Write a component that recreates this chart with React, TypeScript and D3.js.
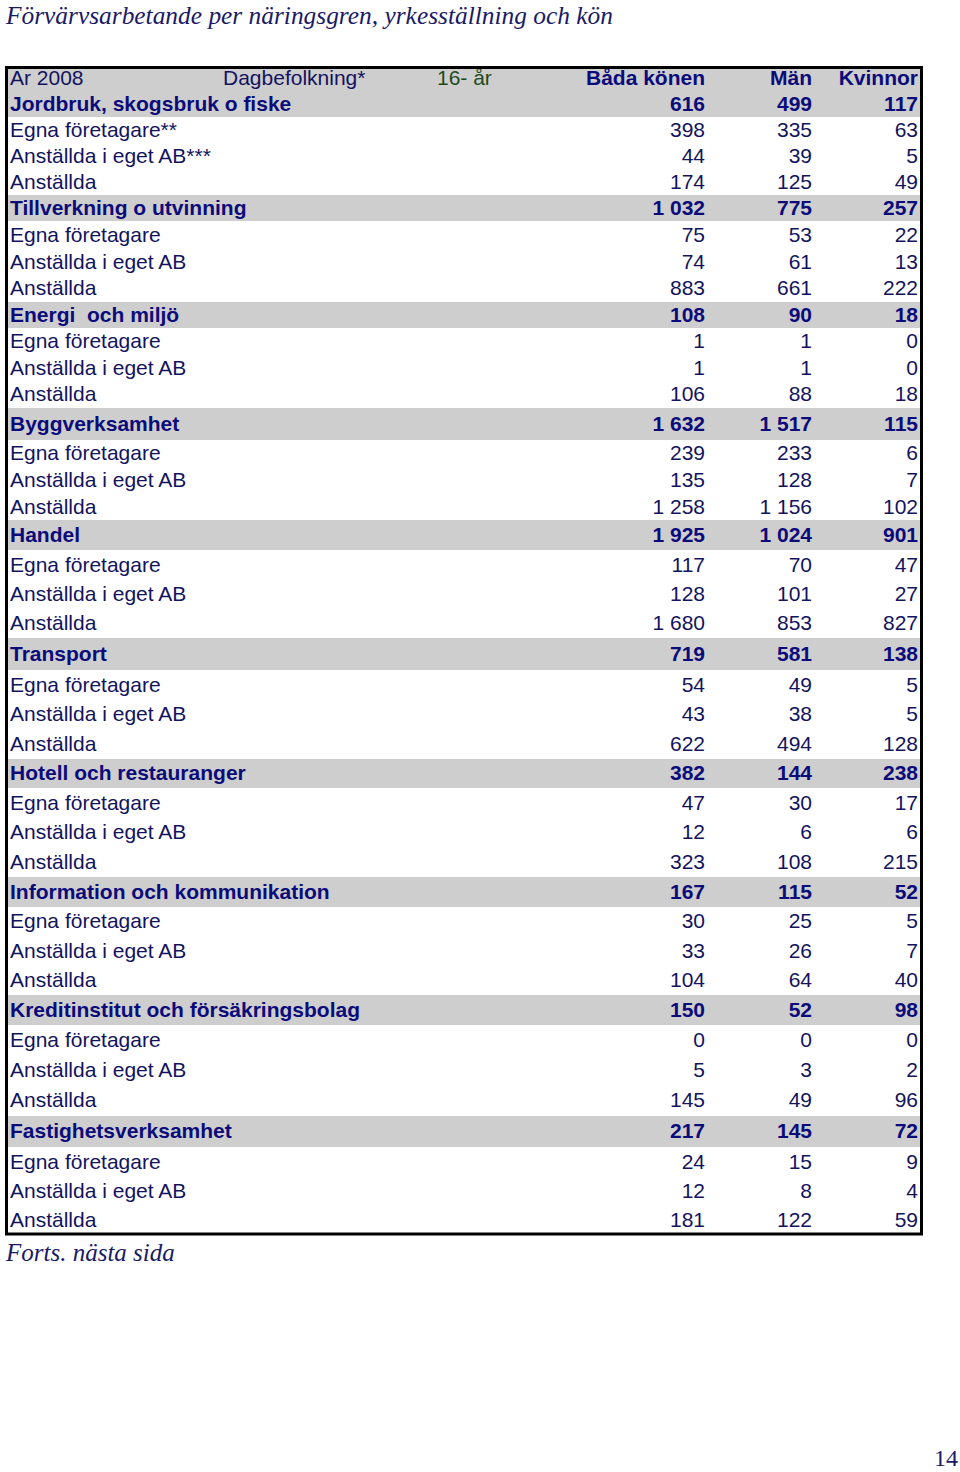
import React from "react";
import * as d3 from "d3";

// ---------- data ----------
const titleText = "Förvärvsarbetande per näringsgren, yrkesställning och kön";
const footerText = "Forts. nästa sida";
const pageNumber = "14";

const headerLabels = ["Ar 2008", "Dagbefolkning*", "16- år"];
const valueColumns = ["Båda könen", "Män", "Kvinnor"];

const sectors = [
  "Jordbruk, skogsbruk o fiske",
  "Tillverkning o utvinning",
  "Energi  och miljö",
  "Byggverksamhet",
  "Handel",
  "Transport",
  "Hotell och restauranger",
  "Information och kommunikation",
  "Kreditinstitut och försäkringsbolag",
  "Fastighetsverksamhet",
];

const firstSubLabels = ["Egna företagare**", "Anställda i eget AB***", "Anställda"];
const subLabels = ["Egna företagare", "Anställda i eget AB", "Anställda"];

// [total, egna företagare, anställda i eget AB, anställda]
const bothSexes = [
  [616, 398, 44, 174],
  [1032, 75, 74, 883],
  [108, 1, 1, 106],
  [1632, 239, 135, 1258],
  [1925, 117, 128, 1680],
  [719, 54, 43, 622],
  [382, 47, 12, 323],
  [167, 30, 33, 104],
  [150, 0, 5, 145],
  [217, 24, 12, 181],
];
const men = [
  [499, 335, 39, 125],
  [775, 53, 61, 661],
  [90, 1, 1, 88],
  [1517, 233, 128, 1156],
  [1024, 70, 101, 853],
  [581, 49, 38, 494],
  [144, 30, 6, 108],
  [115, 25, 26, 64],
  [52, 0, 3, 49],
  [145, 15, 8, 122],
];
const women = [
  [117, 63, 5, 49],
  [257, 22, 13, 222],
  [18, 0, 0, 18],
  [115, 6, 7, 102],
  [901, 47, 27, 827],
  [138, 5, 5, 128],
  [238, 17, 6, 215],
  [52, 5, 7, 40],
  [98, 0, 2, 96],
  [72, 9, 4, 59],
];

// ---------- layout ----------
const W = 960;
const H = 1472;
const tableLeft = 6.5;
const tableRight = 921.5;
const tableTop = 67.5;
const headerHeight = 23.5;
// row heights per section: [heading, sub1, sub2, sub3]
const sectionRowHeights = [
  [26, 26, 26, 26],
  [26, 28, 26, 27],
  [26, 27, 26, 27],
  [32, 27, 27, 26],
  [30, 30, 29, 29],
  [32, 30, 29, 30],
  [29, 30, 29, 30],
  [30, 29, 30, 29],
  [30, 31, 29, 31],
  [31, 30, 29, 28],
];
const labelX = 10;
const headerX = [10, 223, 437];
const colRight = d3.scaleOrdinal<string, number>().domain(valueColumns).range([705, 812, 918]);

const fmtLocale = d3.formatLocale({ decimal: ",", thousands: " ", grouping: [3], currency: ["", ""] });
const fmt = fmtLocale.format(",d");

const FONT = "'Liberation Sans', Arial, Helvetica, sans-serif";
const SERIF = "'Liberation Serif', 'Times New Roman', serif";
const NAVY = "#13135e";
const NAVY_BOLD = "#0b0b7a";
const GREEN = "#1d4a1d";
const GRAY = "#cecece";

export default function App() {
  type Row = { top: number; h: number; label: string; vals: number[]; heading: boolean };
  const rows: Row[] = [];
  let y = tableTop + headerHeight;
  sectors.forEach((s, si) => {
    const hs = sectionRowHeights[si];
    const labels = [s, ...(si === 0 ? firstSubLabels : subLabels)];
    for (let r = 0; r < 4; r++) {
      rows.push({
        top: y,
        h: hs[r],
        label: labels[r],
        vals: [bothSexes[si][r], men[si][r], women[si][r]],
        heading: r === 0,
      });
      y += hs[r];
    }
  });
  const tableBottom = y;
  const fontSize = 21;
  const baseOff = 6.5;
  const headerBase = tableTop + headerHeight / 2 + 5.5;

  return (
    <svg
      width={W}
      height={H}
      style={{ position: "absolute", left: 0, top: 0, background: "#fff" }}
      xmlns="http://www.w3.org/2000/svg"
    >
      <text x={6} y={24} fontFamily={SERIF} fontStyle="italic" fontSize={25.4} fill="#1a1a66">
        {titleText}
      </text>

      {/* header background */}
      <rect x={tableLeft} y={tableTop} width={tableRight - tableLeft} height={headerHeight} fill={GRAY} />
      {rows.filter((r) => r.heading).map((r, i) => (
        <rect key={"bg" + i} x={tableLeft} y={r.top} width={tableRight - tableLeft} height={r.h} fill={GRAY} />
      ))}

      {/* header row */}
      <g fontFamily={FONT} fontSize={fontSize}>
        {headerLabels.map((t, i) => (
          <text key={t} x={headerX[i]} y={headerBase} fill={i === 2 ? GREEN : NAVY}>
            {t}
          </text>
        ))}
        {valueColumns.map((c) => (
          <text key={c} x={colRight(c)} y={headerBase} textAnchor="end" fontWeight="bold" fill={NAVY_BOLD}>
            {c}
          </text>
        ))}
      </g>

      {/* body rows */}
      <g fontFamily={FONT} fontSize={fontSize}>
        {rows.map((r, i) => {
          const cy = r.top + r.h / 2 + baseOff;
          const fill = r.heading ? NAVY_BOLD : NAVY;
          const fw = r.heading ? "bold" : "normal";
          return (
            <g key={i} fill={fill} fontWeight={fw}>
              <text x={labelX} y={cy} style={{ whiteSpace: "pre" }}>
                {r.label}
              </text>
              {valueColumns.map((c, ci) => (
                <text key={c} x={colRight(c)} y={cy} textAnchor="end">
                  {fmt(r.vals[ci])}
                </text>
              ))}
            </g>
          );
        })}
      </g>

      {/* outer border */}
      <rect
        x={tableLeft}
        y={tableTop}
        width={tableRight - tableLeft}
        height={tableBottom - tableTop}
        fill="none"
        stroke="#000"
        strokeWidth={3}
      />

      <text x={6} y={tableBottom + 27} fontFamily={SERIF} fontStyle="italic" fontSize={25} fill="#1a1a66">
        {footerText}
      </text>
      <text x={958} y={1466} textAnchor="end" fontFamily={SERIF} fontSize={24} fill="#1a1a66">
        {pageNumber}
      </text>
    </svg>
  );
}
